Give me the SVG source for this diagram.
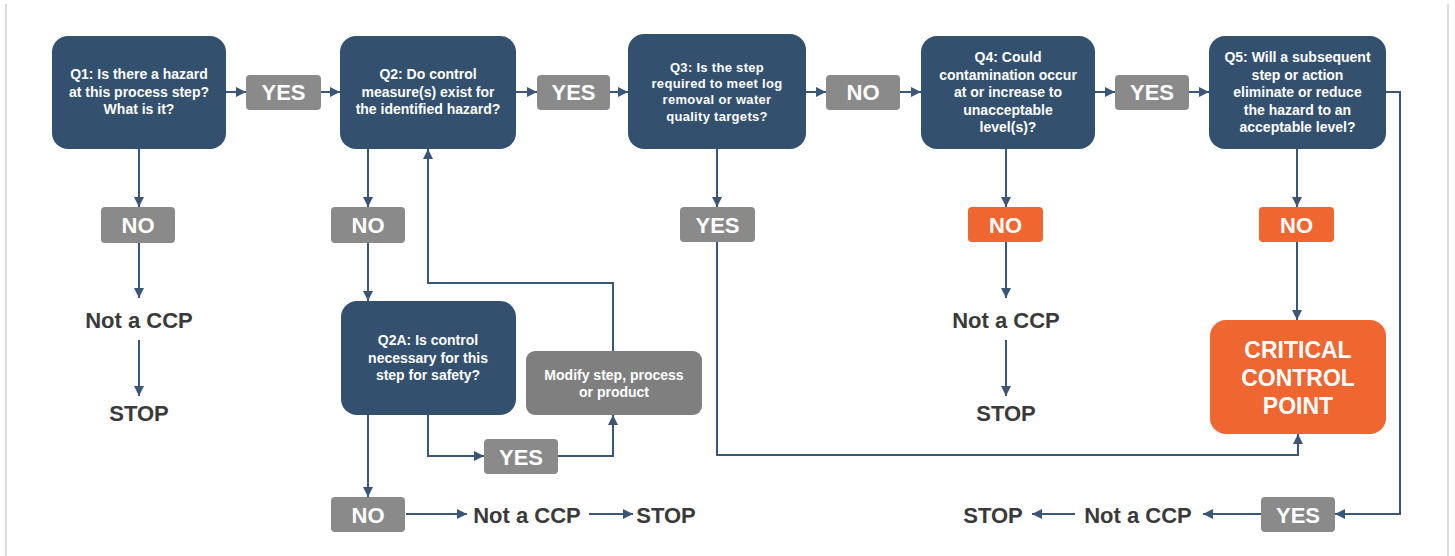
<svg xmlns="http://www.w3.org/2000/svg" width="1455" height="556" viewBox="0 0 1455 556">
<style>
.q{fill:#33506f}
.lbl{fill:#8a8a8a}
.org{fill:#ef6631}
.mod{fill:#7f7f7f}
.t{font-family:"Liberation Sans",Arial,sans-serif;font-weight:bold;fill:#fff;text-anchor:middle}
.qt{font-size:14px}
.q3t{font-size:13px;letter-spacing:0.3px}
.lt{font-size:22px}
.dk{font-family:"Liberation Sans",Arial,sans-serif;font-weight:bold;fill:#3a3a3a;text-anchor:middle;font-size:22px}
.c{fill:none;stroke:#3b5677;stroke-width:2;marker-end:url(#ah)}
</style>
<defs>
<marker id="ah" markerUnits="userSpaceOnUse" markerWidth="10" markerHeight="10" refX="10" refY="5" orient="auto">
<path d="M0,0 L10,5 L0,10 z" fill="#3b5677"/>
</marker>
</defs>
<rect width="1455" height="556" fill="#fff"/>
<line x1="6" y1="4" x2="6" y2="556" stroke="#dcdcdc" stroke-width="2"/>
<line x1="1448" y1="4" x2="1448" y2="556" stroke="#dcdcdc" stroke-width="2"/>

<g id="connectors">
<path class="c" d="M226,92 H246"/>
<path class="c" d="M321,92 H340"/>
<path class="c" d="M516,92 H537"/>
<path class="c" d="M610,92 H628"/>
<path class="c" d="M806,92 H826"/>
<path class="c" d="M900,92 H921"/>
<path class="c" d="M1095,92 H1115"/>
<path class="c" d="M1189,92 H1209"/>
<path class="c" d="M1386,92 H1400 V514 H1335"/>
<path class="c" d="M1261,514 H1203"/>
<path class="c" d="M1075,514 H1032"/>
<path class="c" d="M139,149 V207"/>
<path class="c" d="M139,243 V298"/>
<path class="c" d="M139,340 V396"/>
<path class="c" d="M368,149 V207"/>
<path class="c" d="M368,243 V301"/>
<path class="c" d="M613,351 V283 H428 V149"/>
<path class="c" d="M428,415 V456 H484"/>
<path class="c" d="M558,456 H613 V415"/>
<path class="c" d="M368,415 V497"/>
<path class="c" d="M406,514 H467"/>
<path class="c" d="M589,514 H633"/>
<path class="c" d="M717,149 V207"/>
<path class="c" d="M717,242 V455 H1298 V434"/>
<path class="c" d="M1006,149 V207"/>
<path class="c" d="M1006,242 V298"/>
<path class="c" d="M1006,340 V396"/>
<path class="c" d="M1297,149 V207"/>
<path class="c" d="M1297,242 V320"/>
</g>

<g id="q1">
<rect class="q" x="52" y="36" width="174" height="113" rx="16"/>
<text class="t qt" x="139" y="79">Q1: Is there a hazard</text>
<text class="t qt" x="139" y="96.5">at this process step?</text>
<text class="t qt" x="139" y="114">What is it?</text>
</g>
<g id="yes1"><rect class="lbl" x="246" y="75" width="75" height="35" rx="4"/><text class="t lt" x="283.5" y="100">YES</text></g>
<g id="q2">
<rect class="q" x="340" y="36" width="176" height="113" rx="16"/>
<text class="t qt" x="428" y="79">Q2: Do control</text>
<text class="t qt" x="428" y="96.5">measure(s) exist for</text>
<text class="t qt" x="428" y="114">the identified hazard?</text>
</g>
<g id="yes2"><rect class="lbl" x="537" y="75" width="73" height="35" rx="4"/><text class="t lt" x="573.5" y="100">YES</text></g>
<g id="q3">
<rect class="q" x="628" y="34" width="178" height="115" rx="16"/>
<text class="t q3t" x="717" y="72">Q3: Is the step</text>
<text class="t q3t" x="717" y="88">required to meet log</text>
<text class="t q3t" x="717" y="104">removal or water</text>
<text class="t q3t" x="717" y="120.5">quality targets?</text>
</g>
<g id="no1"><rect class="lbl" x="826" y="75" width="74" height="35" rx="4"/><text class="t lt" x="863" y="100">NO</text></g>
<g id="q4">
<rect class="q" x="921" y="36" width="174" height="113" rx="16"/>
<text class="t qt" x="1008" y="62">Q4: Could</text>
<text class="t qt" x="1008" y="80">contamination occur</text>
<text class="t qt" x="1008" y="97">at or increase to</text>
<text class="t qt" x="1008" y="115">unacceptable</text>
<text class="t qt" x="1008" y="132">level(s)?</text>
</g>
<g id="yes3"><rect class="lbl" x="1115" y="75" width="74" height="35" rx="4"/><text class="t lt" x="1152" y="100">YES</text></g>
<g id="q5">
<rect class="q" x="1209" y="36" width="177" height="113" rx="16"/>
<text class="t qt" x="1297.5" y="62">Q5: Will a subsequent</text>
<text class="t qt" x="1297.5" y="80">step or action</text>
<text class="t qt" x="1297.5" y="97">eliminate or reduce</text>
<text class="t qt" x="1297.5" y="115">the hazard to an</text>
<text class="t qt" x="1297.5" y="132">acceptable level?</text>
</g>

<g id="no-q1"><rect class="lbl" x="101" y="207" width="74" height="36" rx="4"/><text class="t lt" x="138" y="233">NO</text></g>
<g id="notccp-q1"><text class="dk" x="139" y="328">Not a CCP</text></g>
<g id="stop-q1"><text class="dk" x="139" y="421">STOP</text></g>

<g id="no-q2"><rect class="lbl" x="331" y="207" width="74" height="36" rx="4"/><text class="t lt" x="368" y="233">NO</text></g>
<g id="q2a">
<rect class="q" x="341" y="301" width="175" height="114" rx="16"/>
<text class="t qt" x="428" y="345">Q2A: Is control</text>
<text class="t qt" x="428" y="363">necessary for this</text>
<text class="t qt" x="428" y="380">step for safety?</text>
</g>
<g id="modify">
<rect class="mod" x="526" y="351" width="176" height="64" rx="9"/>
<text class="t qt" x="614" y="380">Modify step, process</text>
<text class="t qt" x="614" y="397">or product</text>
</g>
<g id="yes-q2a"><rect class="lbl" x="484" y="439" width="74" height="35" rx="4"/><text class="t lt" x="521" y="464.5">YES</text></g>
<g id="no-q2a"><rect class="lbl" x="331" y="497" width="74" height="35" rx="4"/><text class="t lt" x="368" y="522.5">NO</text></g>
<g id="notccp-q2a"><text class="dk" x="527" y="522.5">Not a CCP</text></g>
<g id="stop-q2a"><text class="dk" x="666" y="522.5">STOP</text></g>

<g id="yes-q3"><rect class="lbl" x="680" y="207" width="75" height="35" rx="4"/><text class="t lt" x="717.5" y="232.5">YES</text></g>

<g id="no-q4"><rect class="org" x="968" y="207" width="75" height="35" rx="4"/><text class="t lt" x="1005.5" y="232.5">NO</text></g>
<g id="notccp-q4"><text class="dk" x="1006" y="328">Not a CCP</text></g>
<g id="stop-q4"><text class="dk" x="1006" y="421">STOP</text></g>

<g id="no-q5"><rect class="org" x="1259" y="207" width="75" height="35" rx="4"/><text class="t lt" x="1296.5" y="232.5">NO</text></g>
<g id="ccp">
<rect class="org" x="1210" y="320" width="176" height="114" rx="16"/>
<text class="t" style="font-size:23px" x="1298" y="358">CRITICAL</text>
<text class="t" style="font-size:23px" x="1298" y="386">CONTROL</text>
<text class="t" style="font-size:23px" x="1298" y="414">POINT</text>
</g>

<g id="yes-q5"><rect class="lbl" x="1261" y="497" width="74" height="35" rx="4"/><text class="t lt" x="1298" y="522.5">YES</text></g>
<g id="notccp-q5"><text class="dk" x="1138" y="522.5">Not a CCP</text></g>
<g id="stop-q5"><text class="dk" x="993" y="522.5">STOP</text></g>
</svg>
